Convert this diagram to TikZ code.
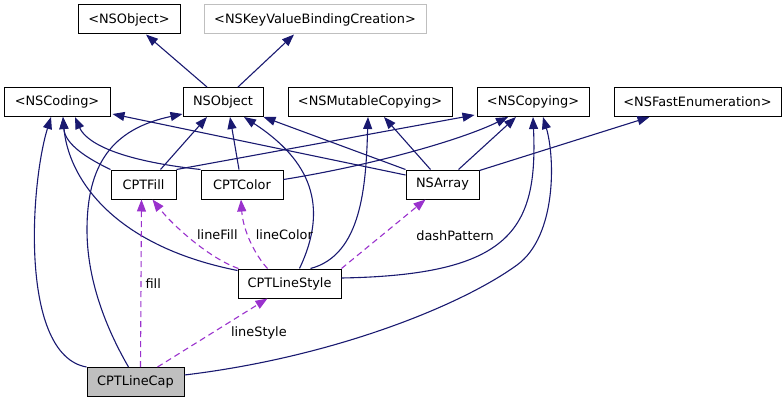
\documentclass[tikz,border=0pt]{standalone}
\usepackage{fontspec}
\setmainfont{DejaVu Sans}
\usepackage{xcolor}
\usepackage{tikz}
\usetikzlibrary{
  positioning,
  arrows.meta
}

\definecolor{edgeblue}{HTML}{191970}
\definecolor{usepurple}{HTML}{9A32CD}
\definecolor{boxgray}{HTML}{BFBFBF}

\begin{document}
\begin{tikzpicture}[
  x=1pt, y=1pt,
  font=\fontsize{12.9}{15}\selectfont,
  node distance=24pt,
  cls/.style={
    rectangle,
    draw=black,
    line width=1pt,
    fill=white,
    minimum height=29pt,
    inner xsep=2pt,
    inner ysep=0pt
  },
  proto/.style={
    cls,
    draw=boxgray
  },
  focus/.style={
    cls,
    fill=boxgray
  },
  inherit/.style={
    -{Triangle[length=12pt,width=9pt]},
    line width=1.1pt,
    draw=edgeblue
  },
  uses/.style={
    -{Triangle[length=12pt,width=9pt]},
    line width=1.1pt,
    draw=usepurple,
    dash pattern=on 6pt off 4pt
  },
  lbl/.style={
    inner sep=1pt,
    anchor=west,
    text=black
  }
]
\useasboundingbox (0,0) rectangle (784,405);

% Root protocols
\node[cls, minimum width=102pt] (nsobjproto) at (129,385.5) {<NSObject>};
\node[proto, minimum width=222pt, right=23pt of nsobjproto] (kvbc) {<NSKeyValueBindingCreation>};

% Protocols and root class
\node[cls, minimum width=106pt] (nscoding) at (57,303) {<NSCoding>};
\node[cls, minimum width=80pt] (nsobject) at (223,303) {NSObject};
\node[cls, minimum width=164pt, right=of nsobject] (mutcopy) {<NSMutableCopying>};
\node[cls, minimum width=112pt, right=of mutcopy] (nscopying) {<NSCopying>};
\node[cls, minimum width=167pt, right=of nscopying] (fastenum) {<NSFastEnumeration>};

% Classes
\node[cls, minimum width=65pt] (cptfill) at (143.5,220.5) {CPTFill};
\node[cls, minimum width=82pt, right=of cptfill] (cptcolor) {CPTColor};
\node[cls, minimum width=73pt] (nsarray) at (442.5,220.5) {NSArray};
\node[cls, minimum width=103pt] (linestyle) at (289.5,121.5) {CPTLineStyle};
\node[focus, minimum width=97pt] (linecap) at (135.5,23) {CPTLineCap};

% Inheritance
\draw[inherit] ([xshift=-16]nsobject.north) -- ([xshift=17]nsobjproto.south);
\draw[inherit] ([xshift=15]nsobject.north) -- ([xshift=-21]kvbc.south);

\draw[inherit] ([xshift=17]cptfill.north) -- ([xshift=-16]nsobject.south);
\draw[inherit] (cptfill.north west) .. controls +(-21,10) and +(2,-28) .. ([xshift=6]nscoding.south);
\draw[inherit] (cptfill.north east) -- ([xshift=-2,yshift=2]nscopying.south west);

\draw[inherit] ([xshift=-3]cptcolor.north) -- ([xshift=7]nsobject.south);
\draw[inherit] (cptcolor.north west) .. controls +(-90,10) and +(10,-23) .. ([xshift=18]nscoding.south);
\draw[inherit] ([yshift=5]cptcolor.east) .. controls +(88,14) and +(-47,-23) .. ([xshift=-25]nscopying.south);

\draw[inherit] (nsarray.north west) -- (nsobject.south east);
\draw[inherit] ([yshift=9.5]nsarray.west) -- ([xshift=2,yshift=3]nscoding.south east);
\draw[inherit] ([xshift=-12]nsarray.north) -- ([xshift=14]mutcopy.south);
\draw[inherit] ([xshift=16]nsarray.north) -- ([xshift=-17]nscopying.south);
\draw[inherit] ([yshift=-1]nsarray.north east) -- ([xshift=-48]fastenum.south);

\draw[inherit] ([xshift=10]linestyle.north) .. controls +(30,63) and +(66,-43) .. ([xshift=21]nsobject.south);
\draw[inherit] ([yshift=-2]linestyle.north west) .. controls +(-128,25.5) and +(5,-58) .. ([xshift=6]nscoding.south);
\draw[inherit] ([xshift=21]linestyle.north) .. controls +(51.5,13.5) and +(-2,-68) .. ([xshift=-2]mutcopy.south);
\draw[inherit] ([yshift=5.5]linestyle.east) .. controls +(169,3) and +(5,-113) .. (nscopying.south);

\draw[inherit] (linecap.north west) .. controls +(-67,12) and +(-21,-68) .. ([xshift=-6]nscoding.south);
\draw[inherit] ([xshift=-7]linecap.north) .. controls +(-18.5,32) and +(0,-55) .. (87,175)
  .. controls +(0,65) and +(-71,-15) .. ([yshift=3]nsobject.south west);
\draw[inherit] ([yshift=7]linecap.east) .. controls +(150,18) and +(-55,-40) .. (517,140)
  .. controls +(40,29) and +(12,-40) .. ([xshift=10]nscopying.south);

% Usage
\draw[uses] ([xshift=5]linecap.north) -- node[lbl, pos=0.5, xshift=3]{fill} ([xshift=-2]cptfill.south);
\draw[uses] ([xshift=22]linecap.north) -- node[lbl, pos=0.5, xshift=17]{lineStyle} ([xshift=-22]linestyle.south);
\draw[uses] ([xshift=1]linestyle.north west) .. controls +(-30,10.5) and +(19.5,-25)
  .. node[lbl, pos=0.5, xshift=4, yshift=5]{lineFill} ([xshift=9]cptfill.south);
\draw[uses] ([xshift=-22]linestyle.north) .. controls +(-12.5,13.5) and +(2,-31)
  .. node[lbl, pos=0.5, xshift=4, yshift=6]{lineColor} ([xshift=-1]cptcolor.south);
\draw[uses] (linestyle.north east) -- node[lbl, pos=0.48, xshift=33]{dashPattern} ([xshift=-17]nsarray.south);

\end{tikzpicture}
\end{document}
